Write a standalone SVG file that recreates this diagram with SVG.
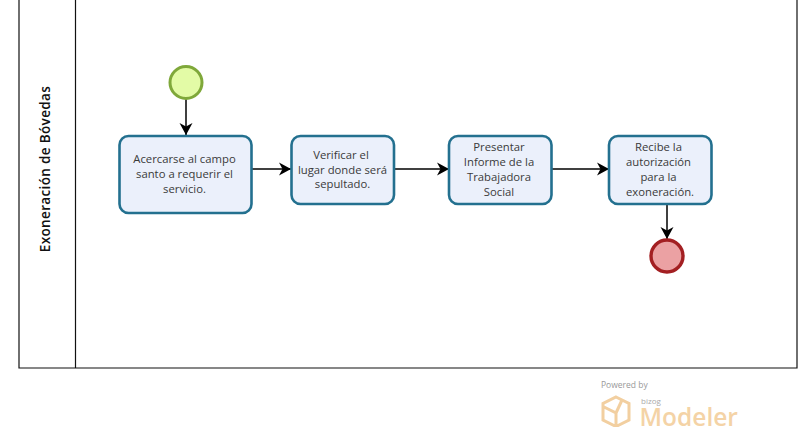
<svg xmlns="http://www.w3.org/2000/svg" width="800" height="427" viewBox="0 0 800 427">
<style>
.task{fill:#ebf0fb;stroke:#23708f;stroke-width:2.6}
.t{font-family:"Open Sans","Noto Sans",sans-serif;font-size:11.300px;fill:#3a3a3a;text-anchor:middle}
.c{fill:none;stroke:#000;stroke-width:1.500}
.lane{fill:#fff;stroke:#111;stroke-width:1.200}
</style>
<defs>
<marker id="arrow" markerUnits="userSpaceOnUse" markerWidth="14" markerHeight="14" refX="12" refY="7" orient="auto">
<path d="M0 0.500L12 7L0 13.500L3.500 7Z" fill="#000"/>
</marker>
</defs>
<rect width="800" height="427" fill="#fff"/>
<g id="pool">
<path class="lane" d="M19 -2V368H797V-2"/>
<path class="lane" d="M75.500 -2V368"/>
<text transform="translate(50 169) rotate(-90)" font-family="'Open Sans','Noto Sans',sans-serif" font-size="13.500px" font-weight="600" letter-spacing="0.350" fill="#111" text-anchor="middle">Exoneración de Bóvedas</text>
</g>
<g id="connectors">
<path class="c" d="M186 99V135" marker-end="url(#arrow)"/>
<path class="c" d="M252 169H291" marker-end="url(#arrow)"/>
<path class="c" d="M394 169H449" marker-end="url(#arrow)"/>
<path class="c" d="M552 169H609" marker-end="url(#arrow)"/>
<path class="c" d="M667 204V239" marker-end="url(#arrow)"/>
</g>
<g id="start"><circle cx="186" cy="82.500" r="16" fill="#e3fba6" stroke="#7fa83a" stroke-width="3"/></g>
<g id="task1"><rect class="task" x="119.500" y="136" width="132" height="77" rx="9"/>
<text class="t" x="184.500" y="163">Acercarse al campo</text><text class="t" x="184.500" y="178">santo a requerir el</text><text class="t" x="184.500" y="193">servicio.</text></g>
<g id="task2"><rect class="task" x="291.500" y="136" width="102.500" height="68" rx="9"/>
<text class="t" x="341" y="159">Verificar el</text><text class="t" x="342.500" y="173.500">lugar donde será</text><text class="t" x="342.500" y="188">sepultado.</text></g>
<g id="task3"><rect class="task" x="449" y="136" width="102.500" height="68" rx="9"/>
<text class="t" x="499" y="151">Presentar</text><text class="t" x="499" y="166">Informe de la</text><text class="t" x="499" y="181">Trabajadora</text><text class="t" x="499" y="195.500">Social</text></g>
<g id="task4"><rect class="task" x="609" y="136" width="102.500" height="68" rx="9"/>
<text class="t" x="658.500" y="151">Recibe la</text><text class="t" x="658.500" y="166">autorización</text><text class="t" x="658.500" y="181">para la</text><text class="t" x="660" y="195.500">exoneración.</text></g>
<g id="end"><circle cx="667" cy="256" r="16" fill="#eba1a3" stroke="#a31f22" stroke-width="3.400"/></g>
<g id="logo">
<text x="601" y="388" font-family="'Open Sans',sans-serif" font-size="8.500px" fill="#999">Powered by</text>
<path d="M616 397L629 403.500V420L616 426.500L603 420V403.500Z M604 407L616 413L616 426 M616 413L622 400" fill="none" stroke="#f2cfa0" stroke-width="3"/>
<text x="641" y="404" font-family="'Open Sans',sans-serif" font-size="8px" fill="#aaa">bizog</text>
<text x="639.500" y="426" font-family="'Open Sans',sans-serif" font-size="24.500px" font-weight="600" fill="#f4d3a6">Modeler</text>
</g>
</svg>
